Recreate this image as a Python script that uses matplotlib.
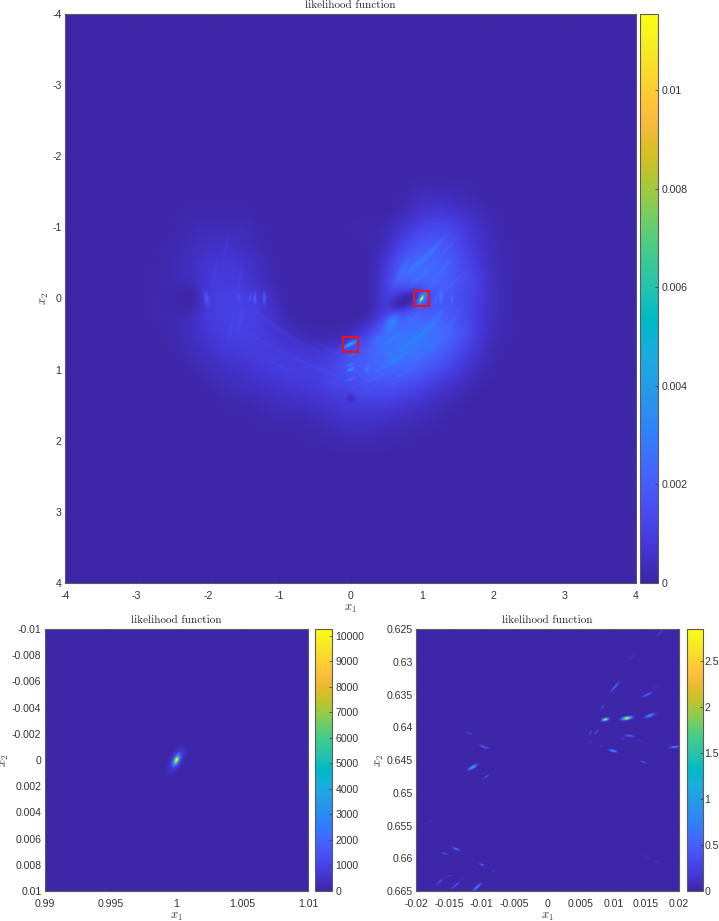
import matplotlib
matplotlib.use('Agg')
import matplotlib.pyplot as plt
from matplotlib.colors import LinearSegmentedColormap
from matplotlib.patches import Rectangle
import numpy as np

plt.rcParams['font.family'] = ['Liberation Sans', 'DejaVu Sans']
plt.rcParams['mathtext.fontset'] = 'cm'

# parula, every other row of the 64 colour table
parula_rows = [
    [0.2422, 0.1504, 0.6603], [0.2578, 0.1818, 0.7511], [0.2706, 0.2147, 0.8364],
    [0.2783, 0.2559, 0.8991], [0.2813, 0.3006, 0.9414], [0.2795, 0.3447, 0.9717],
    [0.2699, 0.3892, 0.9906], [0.2440, 0.4358, 0.9988], [0.1963, 0.4847, 0.9892],
    [0.1786, 0.5289, 0.9682], [0.1687, 0.5703, 0.9359], [0.1460, 0.6091, 0.9079],
    [0.1248, 0.6459, 0.8883], [0.0952, 0.6798, 0.8598], [0.0297, 0.7082, 0.8163],
    [0.0067, 0.7312, 0.7660], [0.0964, 0.7500, 0.7120], [0.1717, 0.7670, 0.6554],
    [0.2161, 0.7843, 0.5923], [0.2906, 0.7973, 0.5188], [0.3909, 0.8029, 0.4354],
    [0.5044, 0.7993, 0.3480], [0.6174, 0.7876, 0.2612], [0.7242, 0.7698, 0.1910],
    [0.8203, 0.7498, 0.1535], [0.9035, 0.7330, 0.1774], [0.9728, 0.7312, 0.2394],
    [0.9970, 0.7659, 0.2199], [0.9892, 0.8136, 0.1885], [0.9676, 0.8639, 0.1643],
    [0.9597, 0.9135, 0.1423], [0.9691, 0.9606, 0.1064], [0.9769, 0.9839, 0.0805],
]

# main panel, coarse read of the crescent in units of 1e-4
coarse_x = np.arange(-3, 3.01, 0.25)
coarse_y = np.arange(-1.75, 2.26, 0.25)
coarse_vals = [
    [0, 0, 0, 0, 0, 0, 0, 0, 0, 0, 0, 0, 0, 0, 0, 0, 0, 0, 0, 0, 0, 0, 0, 0, 0],
    [0, 0, 0, 0, 0, 0, 0, 0, 0, 0, 0, 0, 0, 0, 0, 1, 3, 3, 2, 1, 0, 0, 0, 0, 0],
    [0, 0, 0, 1, 1, 1, 1, 0, 0, 0, 0, 0, 0, 0, 0, 2, 6, 7, 5, 3, 1, 0, 0, 0, 0],
    [0, 0, 1, 2, 3, 3, 3, 1, 0, 0, 0, 0, 1, 1, 2, 7, 12, 14, 11, 6, 2, 0, 0, 0, 0],
    [0, 0, 1, 3, 5, 5, 4, 2, 0, 0, 0, 0, 0, 1, 4, 13, 19, 19, 14, 7, 3, 1, 0, 0, 0],
    [0, 1, 2, 4, 7, 8, 7, 4, 1, 0, 0, 0, 0, 0, 9, 22, 24, 22, 16, 9, 3, 1, 0, 0, 0],
    [0, 1, 2, 5, 8, 9, 8, 5, 1, 0, 0, 0, 0, 0, 14, 26, 24, 22, 17, 11, 4, 1, 0, 0, 0],
    [0, 1, 1, 1, 9, 11, 11, 10, 4, 0, 0, 0, 0, 0, 14, 8, 12, 18, 15, 10, 4, 1, 0, 0, 0],
    [0, 1, 2, 4, 9, 11, 12, 10, 6, 1, 0, 0, 0, 2, 18, 22, 22, 22, 16, 10, 4, 1, 0, 0, 0],
    [0, 0, 1, 4, 8, 10, 11, 10, 9, 5, 3, 3, 6, 18, 30, 28, 28, 26, 19, 10, 3, 1, 0, 0, 0],
    [0, 0, 1, 3, 5, 8, 9, 10, 10, 10, 9, 12, 20, 25, 29, 29, 26, 21, 14, 7, 2, 0, 0, 0, 0],
    [0, 0, 0, 1, 3, 5, 6, 8, 10, 10, 11, 14, 19, 21, 22, 22, 19, 14, 9, 4, 1, 0, 0, 0, 0],
    [0, 0, 0, 0, 1, 3, 4, 5, 6, 8, 9, 11, 13, 15, 15, 14, 11, 7, 4, 1, 0, 0, 0, 0, 0],
    [0, 0, 0, 0, 0, 1, 1, 2, 4, 4, 5, 7, 9, 9, 9, 7, 5, 3, 1, 0, 0, 0, 0, 0, 0],
    [0, 0, 0, 0, 0, 0, 0, 1, 1, 1, 2, 4, 5, 5, 4, 3, 2, 1, 0, 0, 0, 0, 0, 0, 0],
    [0, 0, 0, 0, 0, 0, 0, 0, 0, 0, 1, 1, 2, 2, 1, 1, 0, 0, 0, 0, 0, 0, 0, 0, 0],
    [0, 0, 0, 0, 0, 0, 0, 0, 0, 0, 0, 0, 0, 0, 0, 0, 0, 0, 0, 0, 0, 0, 0, 0, 0],
]

# spots: x, y, peak, long and short width (screen px), angle (deg)
main_spots = [
    (1.0, 0.0, 95, 2.2, 0.8, 60), (1.0, 0.0, 24, 5, 2.5, 60),
    (0.0, 0.64, 36, 4.5, 1.0, 30), (0.0, 0.64, 7, 6, 2.5, 30),
    (0.0, 1.0, 26, 2.2, 1.0, 25), (0.0, 0.93, 16, 2.5, 0.8, 15), (0.01, 0.8, 10, 2.5, 0.8, 20),
    (0.0, 1.14, 10, 2.5, 0.8, 20), (0.23, 1.0, 14, 2.2, 1.0, 80),
    (0.58, 0.33, 13, 6, 3.5, 55), (0.37, 0.58, 6, 4, 2, 40),
    (-1.34, 0.0, 15, 3.5, 0.9, 90), (-1.21, 0.0, 17, 3.5, 0.9, 90), (-1.41, -0.01, 8, 3, 1, 90),
    (-1.57, -0.01, 7, 3, 1, 90), (-2.02, 0.0, 10, 4.5, 1.6, 100),
    (1.27, -0.02, 13, 4, 1.2, 90), (1.42, 0.0, 9, 3, 1, 90), (1.19, 0.02, 7, 3, 1, 90),
]
main_streaks = [
    (0.88, -0.45, 6, 11, 1.1, 45), (1.07, -0.58, 6, 12, 1.1, 45), (1.18, -0.72, 5, 12, 1.1, 45),
    (0.95, -0.28, 5, 10, 1.1, 45), (1.3, -0.42, 4, 10, 1.1, 50), (0.7, -0.35, 6, 9, 2, 60),
    (1.42, -0.2, 3, 9, 1.1, 45), (1.15, -0.2, 3, 9, 1.1, 45), (1.35, -0.7, 3, 8, 1.1, 45),
    (0.85, 0.62, 4, 11, 1.2, 35), (1.05, 0.45, 4, 11, 1.2, 40), (0.72, 0.8, 4, 12, 1.2, 30),
    (0.5, 0.95, 4, 12, 1.2, 25), (1.2, 0.28, 4, 10, 1.2, 50), (0.35, 1.12, 3, 13, 1.2, 22),
    (1.0, 0.8, 3, 9, 1.1, 35), (1.25, 0.6, 3, 9, 1.1, 45), (1.4, 0.35, 3, 8, 1.1, 50),
    (0.75, 1.05, 3, 9, 1.1, 30), (0.6, 0.55, 4, 8, 1.1, 40), (0.95, 0.2, 4, 7, 1.1, 50),
    (0.6, 1.2, 2, 10, 1.1, 25), (0.2, 1.3, 2, 10, 1.1, 15), (1.55, 0.15, 2, 8, 1.1, 60),
    (0.85, 0.3, 3, 7, 1.1, -40), (1.1, 0.65, 3, 7, 1.1, -40), (0.6, 0.85, 3, 7, 1.1, -40),
    (-0.3, 0.72, 3, 14, 1.0, -25), (-0.55, 0.68, 3, 14, 1.0, -28), (-0.4, 1.0, 3, 12, 1.0, -20),
    (-0.85, 0.55, 3, 14, 1.0, -32), (-1.1, 0.35, 3, 14, 1.0, -35), (-0.75, 0.85, 2, 12, 1.0, -28),
    (-1.25, 0.6, 2, 12, 1.0, -30), (-1.55, 0.3, 2, 9, 1.2, 80), (-1.7, 0.5, 2, 9, 1.2, 75),
    (-1.9, -0.35, 2, 9, 1.2, 80), (-1.55, -0.3, 2, 9, 1.2, 80), (-1.3, 0.2, 2, 8, 1.2, 85),
    (-1.75, -0.7, 2, 8, 1.2, 80), (-1.0, 0.95, 2, 10, 1.2, -25), (-0.2, 1.2, 2, 10, 1.2, -15),
]
# multiplied in: x, y, depth, long and short width (screen px), angle (deg)
main_dips = [
    (0.76, 0.03, 1.0, 12, 6, 25), (-0.33, -0.03, 1.0, 35, 35, 0),
    (-2.3, 0.0, 0.9, 11, 8, 90), (0.0, 1.4, 0.7, 3, 3, 0),
]

left_spots = [
    (1.0, 0.0, 8900, 3.0, 1.4, 65), (1.0, 0.0, 1400, 8, 3.5, 62),
]

right_spots = [
    (0.0121, 0.6386, 2.75, 3, 1, 10), (0.0088, 0.6388, 2.5, 2, 0.9, 15),
    (0.0156, 0.6382, 1.0, 3.2, 0.9, 20), (0.0152, 0.635, 0.6, 3.5, 0.7, 25),
    (0.0103, 0.6338, 0.7, 4, 0.6, 50), (0.0127, 0.6294, 0.25, 3.5, 0.4, 45),
    (0.0172, 0.6255, 0.35, 4, 0.4, 50), (0.0084, 0.6369, 0.3, 2, 0.6, 60),
    (0.01, 0.6436, 1.0, 2.5, 0.8, -15), (0.0125, 0.6413, 0.6, 3, 0.7, -5),
    (0.0115, 0.6417, 0.3, 1.5, 0.6, 20), (0.0141, 0.6421, 0.15, 3, 0.5, -10),
    (0.0194, 0.643, 0.9, 3, 0.7, 5), (0.0146, 0.6453, 0.45, 2, 0.6, -20),
    (0.0075, 0.6407, 0.5, 1.8, 0.5, 50), (0.0065, 0.6408, 0.4, 1.5, 0.5, 70),
    (0.0065, 0.6422, 0.3, 1, 0.5, -20), (0.0058, 0.6419, 0.15, 1, 0.4, -20),
    (0.0082, 0.6429, 0.2, 1.2, 0.4, -30), (0.0166, 0.6338, 0.1, 4, 0.5, 20),
    (-0.0114, 0.6461, 1.3, 3, 0.9, 30), (-0.0093, 0.6475, 0.5, 2, 0.5, 35),
    (-0.0099, 0.6429, 0.6, 2, 0.6, -25), (-0.0093, 0.6431, 0.4, 2, 0.6, -5),
    (-0.012, 0.6409, 0.3, 2.2, 0.5, -10), (-0.0084, 0.6443, 0.08, 1.5, 0.4, 30),
    (-0.0178, 0.6543, 0.12, 4, 0.4, 35), (-0.0139, 0.6586, 0.8, 2.5, 0.6, -20),
    (-0.0157, 0.6593, 0.5, 2.2, 0.5, -15), (-0.01, 0.661, 0.7, 1.5, 0.6, -20),
    (-0.0083, 0.662, 0.25, 1, 0.5, 30), (-0.0108, 0.6616, 0.15, 1.5, 0.4, -20),
    (-0.012, 0.6609, 0.1, 1.5, 0.4, -20), (-0.0164, 0.6636, 0.5, 2.2, 0.6, 40),
    (-0.0149, 0.6627, 0.25, 2.5, 0.4, 5), (-0.0138, 0.664, 0.5, 2.5, 0.6, 40),
    (-0.0129, 0.6632, 0.15, 1.5, 0.4, 30), (-0.0108, 0.6645, 1.0, 3, 0.7, 40),
    (-0.0103, 0.664, 0.3, 1.5, 0.5, 20), (-0.0144, 0.6645, 0.3, 1.5, 0.5, 30),
    (-0.0169, 0.6642, 0.2, 1.5, 0.5, 30), (0.0151, 0.6599, 0.15, 4, 0.5, -25),
    (0.0166, 0.6605, 0.15, 2, 0.4, -25), (0.0123, 0.6582, 0.06, 2, 0.4, -25),
    (0.0172, 0.65, 0.07, 2, 0.4, 45), (0.0136, 0.6503, 0.05, 3, 0.4, 50),
    (0.0187, 0.65, 0.05, 2, 0.4, 10),
]

main_clim = 0.01154
left_clim = 10260
right_clim = 2.85

main_ticks = [-4, -3, -2, -1, 0, 1, 2, 3, 4]
main_cticks = [0, 0.002, 0.004, 0.006, 0.008, 0.01]
main_clabels = ['0', '0.002', '0.004', '0.006', '0.008', '0.01']
left_xticks = [0.99, 0.995, 1, 1.005, 1.01]
left_xlabels = ['0.99', '0.995', '1', '1.005', '1.01']
left_yticks = [-0.01, -0.008, -0.006, -0.004, -0.002, 0, 0.002, 0.004, 0.006, 0.008, 0.01]
left_ylabels = ['-0.01', '-0.008', '-0.006', '-0.004', '-0.002', '0', '0.002', '0.004', '0.006', '0.008', '0.01']
left_cticks = list(range(0, 10001, 1000))
right_xticks = [-0.02, -0.015, -0.01, -0.005, 0, 0.005, 0.01, 0.015, 0.02]
right_xlabels = ['-0.02', '-0.015', '-0.01', '-0.005', '0', '0.005', '0.01', '0.015', '0.02']
right_yticks = [0.625, 0.63, 0.635, 0.64, 0.645, 0.65, 0.655, 0.66, 0.665]
right_ylabels = ['0.625', '0.63', '0.635', '0.64', '0.645', '0.65', '0.655', '0.66', '0.665']
right_cticks = [0, 0.5, 1, 1.5, 2, 2.5]
right_clabels = ['0', '0.5', '1', '1.5', '2', '2.5']
red_boxes = [(1.0, 0.0), (0.0, 0.645)]

W, H = 719, 921
cmap = LinearSegmentedColormap.from_list('parula', parula_rows, 256)


def spot_shape(xx, yy, spot, xr, yr, size_px):
    x0, y0, amp, s1, s2, ang = spot
    dx = (xx - x0) / (xr[1] - xr[0]) * size_px
    dy = (yy - y0) / (yr[1] - yr[0]) * size_px
    a = np.deg2rad(ang)
    u = dx * np.cos(a) - dy * np.sin(a)
    v = dx * np.sin(a) + dy * np.cos(a)
    return amp * np.exp(-0.5 * (u / s1) ** 2 - 0.5 * (v / s2) ** 2)


def spots_field(spots, xr, yr, size_px, n):
    xs = np.linspace(xr[0], xr[1], n)
    ys = np.linspace(yr[0], yr[1], n)
    xx, yy = np.meshgrid(xs, ys)
    z = np.zeros_like(xx)
    for s in spots:
        z += spot_shape(xx, yy, s, xr, yr, size_px)
    return z


def main_field(n=700):
    xs = np.linspace(-4, 4, n)
    ys = np.linspace(-4, 4, n)
    xx, yy = np.meshgrid(xs, ys)
    vals = np.array(coarse_vals, dtype=float)
    # bilinear read of the coarse table, then a box blur so the cells do not show
    by_col = np.array([np.interp(xs, coarse_x, row, left=0, right=0) for row in vals])
    z = np.array([np.interp(ys, coarse_y, by_col[:, j], left=0, right=0) for j in range(n)]).T
    kernel = np.ones(15) / 15
    for _ in range(2):
        z = np.apply_along_axis(lambda r: np.convolve(r, kernel, mode='same'), 0, z)
        z = np.apply_along_axis(lambda r: np.convolve(r, kernel, mode='same'), 1, z)
    for s in main_streaks:
        z += spot_shape(xx, yy, s, (-4, 4), (-4, 4), 570)
    for d in main_dips:
        z *= 1 - spot_shape(xx, yy, d, (-4, 4), (-4, 4), 570)
    for s in main_spots:
        z += spot_shape(xx, yy, s, (-4, 4), (-4, 4), 570)
    return z * 1e-4


def px_axes(fig, x0, y0, x1, y1):
    return fig.add_axes([x0 / W, 1 - y1 / H, (x1 - x0) / W, (y1 - y0) / H])


def style(ax, fs=7.6, pad=2.5):
    for sp in ax.spines.values():
        sp.set_color('#5a5a5a')
        sp.set_linewidth(0.8)
    ax.tick_params(direction='in', length=2.5, width=0.5, color='#333333',
                   labelcolor='#333333', labelsize=fs, pad=pad)


def panel(fig, box, cbox, z, xr, yr, clim, xticks, xlabels, yticks, ylabels, cticks, clabels, cpad=2.5):
    ax = px_axes(fig, *box)
    im = ax.imshow(z, extent=[xr[0], xr[1], yr[1], yr[0]], aspect='auto', cmap=cmap,
                   vmin=0, vmax=clim, interpolation='bilinear')
    style(ax)
    ax.set_xticks(xticks)
    ax.set_xticklabels(xlabels)
    ax.set_yticks(yticks)
    ax.set_yticklabels(ylabels)
    ax.tick_params(top=True, right=True)
    ax.tick_params(axis='x', pad=5.5)
    ax.set_xlabel(r'$x_1$', fontsize=9, labelpad=1.5, color='#333333')
    ax.set_ylabel(r'$x_2$', fontsize=9, labelpad=0.5, color='#333333')
    ax.set_title('likelihood function', family='cmr10', fontsize=8, pad=4, color='#222222')
    cax = px_axes(fig, *cbox)
    cb = fig.colorbar(im, cax=cax)
    style(cax, pad=cpad)
    cb.outline.set_edgecolor('#5a5a5a')
    cb.outline.set_linewidth(0.8)
    cb.set_ticks(cticks)
    cb.set_ticklabels(clabels)
    return ax


fig = plt.figure(figsize=(W / 100, H / 100), dpi=100)

ax_main = panel(fig, (65, 14, 636, 583), (640, 14, 658, 583), main_field(), (-4, 4), (-4, 4),
                main_clim, main_ticks, [str(t) for t in main_ticks], main_ticks,
                [str(t) for t in main_ticks], main_cticks, main_clabels)
for bx, by in red_boxes:
    ax_main.add_patch(Rectangle((bx - 0.105, by - 0.105), 0.21, 0.21, fill=False,
                                edgecolor='#e8141c', linewidth=1.5))

panel(fig, (45, 629, 308, 891), (315, 629, 332, 891),
      spots_field(left_spots, (0.99, 1.01), (-0.01, 0.01), 262, 400), (0.99, 1.01), (-0.01, 0.01),
      left_clim, left_xticks, left_xlabels, left_yticks, left_ylabels,
      left_cticks, [str(t) for t in left_cticks])

panel(fig, (416, 629, 679, 891), (687, 629, 703, 891),
      spots_field(right_spots, (-0.02, 0.02), (0.625, 0.665), 262, 600), (-0.02, 0.02), (0.625, 0.665),
      right_clim, right_xticks, right_xlabels, right_yticks, right_ylabels,
      right_cticks, right_clabels, cpad=1)

fig.savefig('out.png', dpi=100)
